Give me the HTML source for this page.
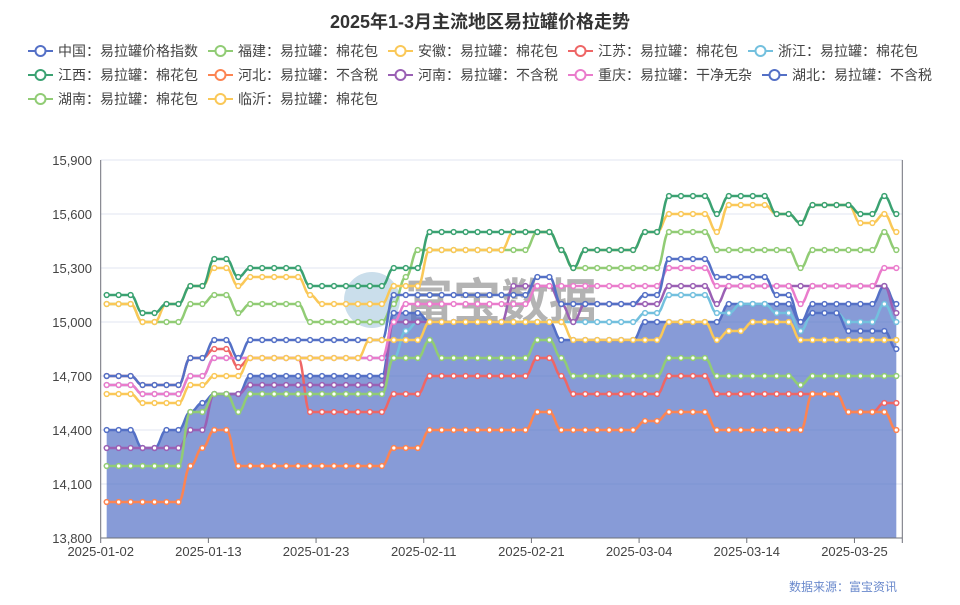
<!DOCTYPE html>
<html><head><meta charset="utf-8"><style>
html,body{margin:0;padding:0;background:#fff;}
svg text{font-family:"Liberation Sans","Noto Sans CJK SC",sans-serif;}
</style></head><body>
<svg id="chart" width="960" height="600" viewBox="0 0 960 600" xmlns="http://www.w3.org/2000/svg">
<rect width="960" height="600" fill="#fff"/>
<text x="480" y="28" text-anchor="middle" font-size="18" font-weight="bold" fill="#333">2025年1-3月主流地区易拉罐价格走势</text>
<g id="grid"></g>
<g id="watermark">
<circle cx="372" cy="300" r="28" fill="#9fc3da" opacity="0.55"/>
<text x="405" y="318" font-size="48" font-weight="bold" fill="#9a9a9a" opacity="0.75">富宝数据</text>
</g>
<g id="series"></g>
<g id="axes"></g>
<g id="legend"></g>
<text x="897" y="591" text-anchor="end" font-size="12" fill="#6a89cc">数据来源：富宝资讯</text>
</svg>
<script>
const categories=["2025-01-02","2025-01-03","2025-01-04","2025-01-06","2025-01-07","2025-01-08","2025-01-09","2025-01-10","2025-01-11","2025-01-13","2025-01-14","2025-01-15","2025-01-16","2025-01-17","2025-01-18","2025-01-20","2025-01-21","2025-01-22","2025-01-23","2025-01-24","2025-01-25","2025-01-26","2025-01-27","2025-02-05","2025-02-06","2025-02-07","2025-02-10","2025-02-11","2025-02-12","2025-02-13","2025-02-14","2025-02-15","2025-02-17","2025-02-18","2025-02-19","2025-02-20","2025-02-21","2025-02-22","2025-02-24","2025-02-25","2025-02-26","2025-02-27","2025-02-28","2025-03-01","2025-03-03","2025-03-04","2025-03-05","2025-03-06","2025-03-07","2025-03-08","2025-03-10","2025-03-11","2025-03-12","2025-03-13","2025-03-14","2025-03-15","2025-03-17","2025-03-18","2025-03-19","2025-03-20","2025-03-21","2025-03-22","2025-03-24","2025-03-25","2025-03-26","2025-03-27","2025-03-28"];
const yTicks=[13800,14100,14400,14700,15000,15300,15600,15900];
const seriesNames=["中国：易拉罐价格指数","福建：易拉罐：棉花包","安徽：易拉罐：棉花包","江苏：易拉罐：棉花包","浙江：易拉罐：棉花包","江西：易拉罐：棉花包","河北：易拉罐：不含税","河南：易拉罐：不含税","重庆：易拉罐：干净无杂","湖北：易拉罐：不含税","湖南：易拉罐：棉花包","临沂：易拉罐：棉花包"];
const colors=["#5470c6","#91cc75","#fac858","#ee6666","#73c0de","#3ba272","#fc8452","#9a60b4","#ea7ccc","#5470c6","#91cc75","#fac858"];
const cn=[14400,14400,14400,14300,14300,14400,14400,14500,14550,14600,14600,14600,14700,14700,14700,14700,14700,14700,14700,14700,14700,14700,14700,14700,15050,15050,15050,15000,15000,15000,15000,15000,15000,15000,15000,15000,15000,15000,14900,14900,14900,14900,14900,14900,14900,15000,15000,15000,15000,15000,15000,15000,15100,15100,15100,15100,15100,15100,15000,15100,15100,15100,15100,15100,15100,15200,15100];
const fj=[15100,15100,15100,15000,15000,15000,15000,15100,15100,15150,15150,15050,15100,15100,15100,15100,15100,15000,15000,15000,15000,15000,15000,15000,15100,15250,15400,15400,15400,15400,15400,15400,15400,15400,15400,15400,15500,15500,15400,15300,15300,15300,15300,15300,15300,15300,15300,15500,15500,15500,15500,15400,15400,15400,15400,15400,15400,15400,15300,15400,15400,15400,15400,15400,15400,15500,15400];
const ah=[15100,15100,15100,15000,15000,15100,15100,15200,15200,15300,15300,15200,15250,15250,15250,15250,15250,15150,15100,15100,15100,15100,15100,15100,15200,15200,15200,15400,15400,15400,15400,15400,15400,15400,15500,15500,15500,15500,15400,15300,15400,15400,15400,15400,15400,15500,15500,15600,15600,15600,15600,15500,15650,15650,15650,15650,15600,15600,15550,15650,15650,15650,15650,15550,15550,15600,15500];
const js=[14700,14700,14700,14650,14650,14650,14650,14800,14800,14850,14850,14750,14800,14800,14800,14800,14800,14500,14500,14500,14500,14500,14500,14500,14600,14600,14600,14700,14700,14700,14700,14700,14700,14700,14700,14700,14800,14800,14700,14600,14600,14600,14600,14600,14600,14600,14600,14700,14700,14700,14700,14600,14600,14600,14600,14600,14600,14600,14600,14600,14600,14600,14500,14500,14500,14550,14550];
const zj=[14650,14650,14650,14600,14600,14600,14600,14700,14700,14800,14800,14800,14800,14800,14800,14800,14800,14800,14800,14800,14800,14800,14800,14800,14800,14950,15000,15000,15000,15000,15000,15000,15000,15000,15000,15000,15000,15000,15000,15000,15000,15000,15000,15000,15000,15050,15050,15150,15150,15150,15150,15050,15050,15100,15100,15100,15050,15050,14950,15050,15050,15050,15000,15000,15000,15100,15000];
const jx=[15150,15150,15150,15050,15050,15100,15100,15200,15200,15350,15350,15250,15300,15300,15300,15300,15300,15200,15200,15200,15200,15200,15200,15200,15300,15300,15300,15500,15500,15500,15500,15500,15500,15500,15500,15500,15500,15500,15400,15300,15400,15400,15400,15400,15400,15500,15500,15700,15700,15700,15700,15600,15700,15700,15700,15700,15600,15600,15550,15650,15650,15650,15650,15600,15600,15700,15600];
const hb=[14000,14000,14000,14000,14000,14000,14000,14200,14300,14400,14400,14200,14200,14200,14200,14200,14200,14200,14200,14200,14200,14200,14200,14200,14300,14300,14300,14400,14400,14400,14400,14400,14400,14400,14400,14400,14500,14500,14400,14400,14400,14400,14400,14400,14400,14450,14450,14500,14500,14500,14500,14400,14400,14400,14400,14400,14400,14400,14400,14600,14600,14600,14500,14500,14500,14500,14400];
const hn=[14300,14300,14300,14300,14300,14300,14300,14400,14400,14600,14600,14600,14650,14650,14650,14650,14650,14650,14650,14650,14650,14650,14650,14650,15000,15000,15000,15000,15000,15000,15000,15000,15000,15000,15200,15200,15200,15200,15100,15000,15100,15100,15100,15100,15100,15100,15100,15200,15200,15200,15200,15100,15200,15200,15200,15200,15200,15200,15200,15200,15200,15200,15200,15200,15200,15200,15050];
const cq=[14650,14650,14650,14600,14600,14600,14600,14700,14700,14800,14800,14800,14800,14800,14800,14800,14800,14800,14800,14800,14800,14800,14800,14800,15000,15100,15100,15100,15100,15100,15100,15100,15100,15100,15100,15100,15200,15200,15200,15200,15200,15200,15200,15200,15200,15200,15200,15300,15300,15300,15300,15200,15200,15200,15200,15200,15200,15200,15100,15200,15200,15200,15200,15200,15200,15300,15300];
const hub=[14700,14700,14700,14650,14650,14650,14650,14800,14800,14900,14900,14800,14900,14900,14900,14900,14900,14900,14900,14900,14900,14900,14900,14900,15150,15150,15150,15150,15150,15150,15150,15150,15150,15150,15150,15150,15250,15250,15100,15100,15100,15100,15100,15100,15100,15150,15150,15350,15350,15350,15350,15250,15250,15250,15250,15250,15150,15150,15000,15050,15050,15050,14950,14950,14950,14950,14850];
const hun=[14200,14200,14200,14200,14200,14200,14200,14500,14500,14600,14600,14500,14600,14600,14600,14600,14600,14600,14600,14600,14600,14600,14600,14600,14800,14800,14800,14900,14800,14800,14800,14800,14800,14800,14800,14800,14900,14900,14800,14700,14700,14700,14700,14700,14700,14700,14700,14800,14800,14800,14800,14700,14700,14700,14700,14700,14700,14700,14650,14700,14700,14700,14700,14700,14700,14700,14700];
const ly=[14600,14600,14600,14550,14550,14550,14550,14650,14650,14700,14700,14700,14800,14800,14800,14800,14800,14800,14800,14800,14800,14800,14900,14900,14900,14900,14900,15000,15000,15000,15000,15000,15000,15000,15000,15000,15000,15000,15000,14900,14900,14900,14900,14900,14900,14900,14900,15000,15000,15000,15000,14900,14950,14950,15000,15000,15000,15000,14900,14900,14900,14900,14900,14900,14900,14900,14900];

const NS="http://www.w3.org/2000/svg";
const X0=100.7,X1=902.3,Y0=160,Y1=538,YMIN=13800,YMAX=15900;
const step=(X1-X0)/categories.length;
function xS(i){return X0+(i+0.5)*step;}
function yS(v){return Y1-(v-YMIN)/(YMAX-YMIN)*(Y1-Y0);}
function mk(tag,attrs,parent){const e=document.createElementNS(NS,tag);for(const k in attrs)e.setAttribute(k,attrs[k]);parent.appendChild(e);return e;}
const grid=document.getElementById('grid'),axes=document.getElementById('axes'),sg=document.getElementById('series'),lg=document.getElementById('legend');

yTicks.forEach(v=>{
  const y=yS(v);
  if(v>YMIN){const l=mk('line',{x1:X0,x2:X1,y1:y,y2:y,stroke:'#e0e6f1','stroke-width':1},grid);
  
  }
  const t=mk('text',{x:92,y:y+5,'text-anchor':'end','font-size':13,fill:'#444'},axes);
  t.textContent=v.toLocaleString('en-US');
  
  
});
let a=mk('line',{x1:X0,x2:X0,y1:Y0,y2:Y1,stroke:'#6e7079','stroke-width':1},axes);


a=mk('line',{x1:X1,x2:X1,y1:Y0,y2:Y1,stroke:'#6e7079','stroke-width':1},axes);


a=mk('line',{x1:X0,x2:X1,y1:Y1,y2:Y1,stroke:'#6e7079','stroke-width':1},axes);


for(let i=0;i<categories.length;i+=9){
  const x=X0+i*step;
  const tk=mk('line',{x1:x,x2:x,y1:Y1,y2:Y1+5,stroke:'#6e7079'},axes);
  
  
  const t=mk('text',{x:x,y:556,'text-anchor':'middle','font-size':13,fill:'#444'},axes);
  t.textContent=categories[i];
  
  
}
const endTick=mk('line',{x1:X1,x2:X1,y1:Y1,y2:Y1+5,stroke:'#6e7079'},axes);



function pathD(vals){
  let d='M'+xS(0)+','+yS(vals[0]);
  for(let i=1;i<vals.length;i++){
    const x0=xS(i-1),y0=yS(vals[i-1]),x1=xS(i),y1=yS(vals[i]),dx=x1-x0;
    d+=' C'+(x0+dx*0.45)+','+y0+' '+(x1-dx*0.45)+','+y1+' '+x1+','+y1;
  }
  return d;
}
const allSeries=[cn,fj,ah,js,zj,jx,hb,hn,cq,hub,hun,ly];
const keys=['cn','fj','ah','js','zj','jx','hb','hn','cq','hub','hun','ly'];
allSeries.forEach((vals,si)=>{
  const g=mk('g',{},sg);
  
  
  const d=pathD(vals);
  if(si===0){
    const ar=mk('path',{d:d+' L'+xS(vals.length-1)+','+Y1+' L'+xS(0)+','+Y1+' Z',fill:'#5470c6','fill-opacity':0.7,stroke:'none'},g);
    
    
  }
  const ln=mk('path',{d:d,fill:'none',stroke:colors[si],'stroke-width':2.5},g);
  
  
  vals.forEach((v,i)=>{
    const c=mk('circle',{cx:xS(i),cy:yS(v),r:2.4,fill:'#fff',stroke:colors[si],'stroke-width':1.5},g);
    
    
  });
});

const legendPos=[[28,51],[208,51],[388,51],[568,51],[748,51],[28,75],[208,75],[388,75],[568,75],[762,75],[28,99],[208,99]];
seriesNames.forEach((n,si)=>{
  const [x,y]=legendPos[si];
  const g=mk('g',{},lg);
  
  
  mk('line',{x1:x,x2:x+25,y1:y,y2:y,stroke:colors[si],'stroke-width':2},g);
  mk('circle',{cx:x+12.5,cy:y,r:5,fill:'#fff',stroke:colors[si],'stroke-width':2},g);
  const t=mk('text',{x:x+30,y:y+5,'font-size':14,fill:'#444'},g);
  t.textContent=n;
});
</script>
</body></html>
